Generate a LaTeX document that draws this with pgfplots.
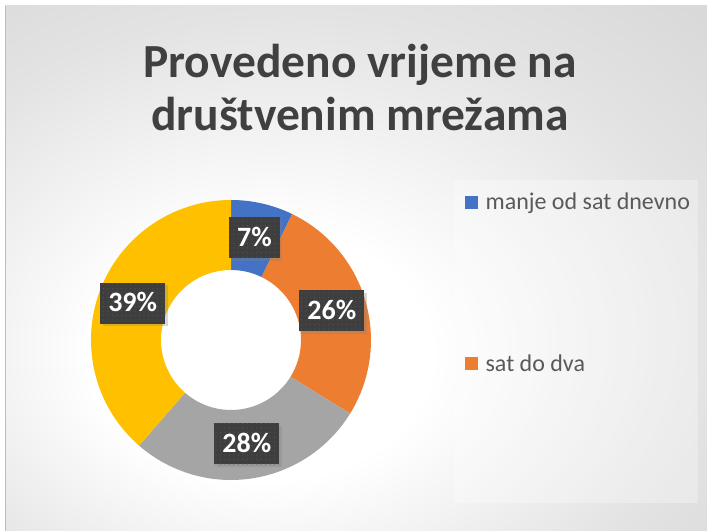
\documentclass[border=0pt]{standalone}
\usepackage{fontspec}
\setmainfont{Carlito}
\usepackage{pgfplots}
\usepackage{pgfplotstable}
\pgfplotsset{compat=1.18}
\usetikzlibrary{shadows,patterns.meta}

\definecolor{cblue}{HTML}{4472C4}
\definecolor{corange}{HTML}{ED7D31}
\definecolor{cgray}{HTML}{A5A5A5}
\definecolor{cyellow}{HTML}{FFC000}
\definecolor{clbl}{HTML}{3E3E3E}
\definecolor{cdot}{HTML}{555555}
\definecolor{ctitle}{HTML}{404040}
\definecolor{ctext}{HTML}{595959}
\definecolor{cbgin}{HTML}{E3E3E3}
\definecolor{cbgmid}{HTML}{CFCFCF}
\definecolor{cbgedge}{HTML}{C2C2C2}
\definecolor{cedge}{HTML}{BDBDBD}

\pgfdeclareradialshading{bgshade}{\pgfpoint{-8bp}{-10bp}}{%
  color(0bp)=(white); color(12bp)=(white); color(30bp)=(cbgin); color(50bp)=(cbgmid); color(71bp)=(cbgedge)}

% share of each slice (percent), label as printed
\pgfplotstableread{
value pct colour
7.2   7   cblue
26.6  26  corange
27.6  28  cgray
38.6  39  cyellow
}\donut

% ring centre and radii in px (y counted from the bottom)
\def\cx{231}\def\cy{191}

\newcommand\donutwedge[3]{%
  \fill[#3] ([shift={(#1:140pt)}]axis cs:\cx,\cy) arc[start angle=#1, end angle=#2, radius=140pt]
    -- ([shift={(#2:70pt)}]axis cs:\cx,\cy) arc[start angle=#2, end angle=#1, radius=70pt] -- cycle;}
\newcommand\donutlabel[2]{%
  \node[lbl] at ([shift={(#1:105pt)}]axis cs:\cx,\cy) {#2\%};}

\tikzset{lbl/.style={fill=clbl, text=white, font=\bfseries\fontsize{28}{32}\selectfont,
    inner xsep=8pt, inner ysep=0pt, text height=18pt, text depth=1pt, minimum height=41pt,
    drop shadow={shadow xshift=2.5pt, shadow yshift=-2.5pt, opacity=0.3},
    postaction={pattern={Dots[radius=0.7pt, distance=4.5pt]}, pattern color=cdot}}}

\begin{document}
\begin{tikzpicture}
\gdef\acc{0}\gdef\wedgelist{}\gdef\labellist{}
\pgfplotstablegetrowsof{\donut}
\pgfmathtruncatemacro\lastrow{\pgfplotsretval-1}
\foreach \i in {0,...,\lastrow}{%
  \pgfplotstablegetelem{\i}{value}\of\donut\let\val\pgfplotsretval
  \pgfplotstablegetelem{\i}{pct}\of\donut\let\pc\pgfplotsretval
  \pgfplotstablegetelem{\i}{colour}\of\donut\let\col\pgfplotsretval
  \pgfmathsetmacro\aone{90-3.6*\acc}
  \pgfmathsetmacro\atwo{90-3.6*(\acc+\val)}
  \pgfmathsetmacro\amid{(\aone+\atwo)/2}
  \pgfmathsetmacro\newacc{\acc+\val}
  \xdef\acc{\newacc}
  \xdef\wedgelist{\unexpanded\expandafter{\wedgelist}\noexpand\donutwedge{\aone}{\atwo}{\col}}
  \xdef\labellist{\unexpanded\expandafter{\labellist}\noexpand\donutlabel{\amid}{\pc}}
}
\begin{axis}[
    scale only axis, width=707pt, height=531pt,
    xmin=0, xmax=707, ymin=0, ymax=531,
    hide axis, clip=false,
    legend cell align=left,
    legend style={at={(axis cs:462,342)}, anchor=north west, draw=none, fill=none,
        row sep=139pt, font=\fontsize{24}{29}\selectfont, text=ctext},
]
% background
\fill[white] (axis cs:0,0) rectangle (axis cs:707,531);
\shade[shading=bgshade] (axis cs:5,0) rectangle (axis cs:707,525);
\draw[cedge, line width=1pt] (axis cs:5.5,0) -- (axis cs:5.5,525);
\fill[white, opacity=0.3] (axis cs:454,351) rectangle (axis cs:698,28);

\wedgelist
\labellist

\node[anchor=base, text=ctitle, font=\bfseries\fontsize{47.5}{56}\selectfont] at (axis cs:360,453) {Provedeno vrijeme na};
\node[anchor=base, text=ctitle, font=\bfseries\fontsize{47.5}{56}\selectfont] at (axis cs:360,400) {društvenim mrežama};

\addlegendimage{legend image code/.code={\fill[cblue] (0pt,-6pt) rectangle (12pt,6pt); \path (18pt,0pt);}}
\addlegendentry{manje od sat dnevno}
\addlegendimage{legend image code/.code={\fill[corange] (0pt,-6pt) rectangle (12pt,6pt); \path (18pt,0pt);}}
\addlegendentry{sat do dva}
\end{axis}
\end{tikzpicture}
\end{document}
